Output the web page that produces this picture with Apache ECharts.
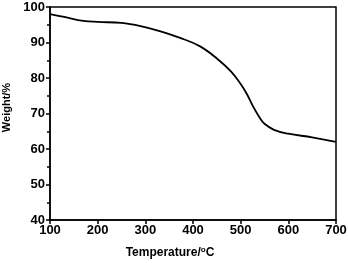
<!DOCTYPE html>
<html><head><meta charset="utf-8">
<script src="https://cdn.jsdelivr.net/npm/echarts@6/dist/echarts.min.js"></script>
<style>html,body{margin:0;padding:0;background:#fff}#c{width:348px;height:263px}</style>
</head><body><div id="c"></div>
<script>
var temperature = [100,130,170,200,250,290,330,373,415,450,480,500,513,526,540,550,570,600,650,700];
var weight = [98.0,97.2,96.1,95.8,95.5,94.6,93.2,91.3,88.9,85.5,81.8,78.3,75.5,72.0,68.8,67.1,65.4,64.3,63.3,62.0];
var xTicks = [100,200,300,400,500,600,700];
var yTicks = [40,50,60,70,80,90,100];

var data = temperature.map(function(t,i){return [t, weight[i]];});
var chart = echarts.init(document.getElementById('c'), null, {renderer:'canvas'});
var font = 'Liberation Sans, Arial, sans-serif';
chart.setOption({
  animation:false,
  grid:{left:50,right:12,top:7,bottom:43,outerBoundsMode:'none',containLabel:false,show:true,borderColor:'#000',borderWidth:1.5,backgroundColor:'transparent'},
  xAxis:{type:'value',min:xTicks[0],max:xTicks[xTicks.length-1],interval:100,
    axisLine:{lineStyle:{color:'#000',width:1.5}},
    axisTick:{show:true,length:4,lineStyle:{color:'#000',width:1.5}},
    splitLine:{show:false},
    axisLabel:{color:'#000',fontFamily:font,fontWeight:'bold',fontSize:13,margin:4},
    name:'{a|Temperature/}{s|o}{a|C}',nameLocation:'middle',nameGap:26,
    nameTextStyle:{padding:[0,46,0,0],rich:{a:{color:'#000',fontFamily:font,fontWeight:'bold',fontSize:12},s:{color:'#000',fontFamily:font,fontWeight:'bold',fontSize:8,verticalAlign:'top',padding:[0,0,6,0]}}}
  },
  yAxis:{type:'value',min:yTicks[0],max:yTicks[yTicks.length-1],interval:10,
    axisLine:{show:true,lineStyle:{color:'#000',width:1.5}},
    axisTick:{show:true,length:4,lineStyle:{color:'#000',width:1.5}},
    minorTick:{show:true,splitNumber:2,length:3,lineStyle:{color:'#000',width:1.5}},
    splitLine:{show:false},
    axisLabel:{color:'#000',fontFamily:font,fontWeight:'bold',fontSize:13,margin:5},
    name:'Weight/%',nameLocation:'middle',nameGap:30,
    nameTextStyle:{color:'#000',fontFamily:font,fontWeight:'bold',fontSize:11,padding:[0,0,0,12]}
  },
  series:[{type:'line',data:data,smooth:0.4,showSymbol:false,lineStyle:{color:'#000',width:1.8}}]
});
</script></body></html>
